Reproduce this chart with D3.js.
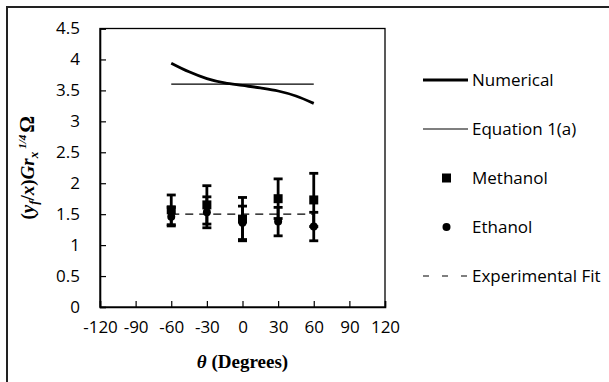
<!DOCTYPE html>
<html>
<head>
<meta charset="utf-8">
<script src="https://cdn.jsdelivr.net/npm/d3@7"></script>
<style>
  html, body { margin: 0; padding: 0; background: #fff; }
  svg { display: block; }
</style>
</head>
<body>
<div id="chart"></div>
<script>
'use strict';

// ─── Data ────────────────────────────────────────────────────────────────────
const xTicks = [-120, -90, -60, -30, 0, 30, 60, 90, 120];
const yTicks = [0, 0.5, 1, 1.5, 2, 2.5, 3, 3.5, 4, 4.5];

const numAngles = [-60, -45, -30, -15, 0, 15, 30, 45, 60];
const numerical = [3.94, 3.80, 3.69, 3.62, 3.58, 3.54, 3.49, 3.41, 3.29];

const lineAngles = [-60, 60];
const equation1a = [3.6, 3.6];
const expFit     = [1.5, 1.5];

const expAngles   = [-60, -30, 0, 30, 60];
const methanol    = [1.57, 1.65, 1.42, 1.75, 1.73];
const methanolErr = [0.24, 0.31, 0.35, 0.32, 0.43];
const ethanol     = [1.46, 1.53, 1.36, 1.38, 1.30];
const ethanolErr  = [0.15, 0.25, 0.27, 0.23, 0.23];

const legendItems = ['Numerical', 'Equation 1(a)', 'Methanol', 'Ethanol', 'Experimental Fit'];

// ─── Layout ──────────────────────────────────────────────────────────────────
const W = 609, H = 382;
const plot = { left: 100, top: 28.5, right: 385, bottom: 307 };
const SANS = '"Open Sans", sans-serif';
const SERIF = '"Liberation Serif", "Times New Roman", serif';

const svg = d3.select('#chart').append('svg').attr('width', W).attr('height', H);

// outer frame (only top and left visible)
svg.append('path')
  .attr('d', `M7,${H} V7 H${W}`)
  .attr('fill', 'none').attr('stroke', '#222').attr('stroke-width', 2);

const x = d3.scaleLinear().domain([-120, 120]).range([plot.left, plot.right]);
const y = d3.scaleLinear().domain([0, 4.5]).range([plot.bottom, plot.top]);

// plot area box
svg.append('rect')
  .attr('x', plot.left).attr('y', plot.top)
  .attr('width', plot.right - plot.left).attr('height', plot.bottom - plot.top)
  .attr('fill', 'none').attr('stroke', '#000').attr('stroke-width', 1.3);

// axes (inside ticks)
const xAxis = svg.append('g').attr('transform', `translate(0,${plot.bottom})`)
  .call(d3.axisBottom(x).tickValues(xTicks).tickSize(-6).tickPadding(14).tickFormat(d3.format('d')));
const yAxis = svg.append('g').attr('transform', `translate(${plot.left},0)`)
  .call(d3.axisLeft(y).tickValues(yTicks).tickSize(-6).tickPadding(20).tickFormat(d => String(d)));

[xAxis, yAxis].forEach(g => {
  g.select('.domain').attr('stroke-width', 1.6);
  g.selectAll('.tick line').attr('stroke-width', 1.2);
  g.selectAll('.tick text')
    .attr('font-family', SANS).attr('font-size', 17).attr('fill', '#000')
    .text(function() { return this.textContent.replace('−', '-'); });
});

// ─── Lines ───────────────────────────────────────────────────────────────────
const numLine = d3.line().x((d, i) => x(numAngles[i])).y(d => y(d)).curve(d3.curveMonotoneX);
svg.append('path').datum(numerical)
  .attr('d', numLine).attr('fill', 'none').attr('stroke', '#000').attr('stroke-width', 2.8);

const flatLine = d3.line().x((d, i) => x(lineAngles[i])).y(d => y(d));
svg.append('path').datum(equation1a)
  .attr('d', flatLine).attr('fill', 'none').attr('stroke', '#000').attr('stroke-width', 1.2);
svg.append('path').datum(expFit)
  .attr('d', flatLine).attr('fill', 'none').attr('stroke', '#000').attr('stroke-width', 1.2)
  .attr('stroke-dasharray', '8,6');

// ─── Error bars + markers ────────────────────────────────────────────────────
function errorBars(vals, errs) {
  const g = svg.append('g').attr('stroke', '#000').attr('stroke-width', 2.8);
  vals.forEach((v, i) => {
    const cx = x(expAngles[i]);
    const y0 = y(v - errs[i]), y1 = y(v + errs[i]);
    g.append('line').attr('x1', cx).attr('x2', cx).attr('y1', y0).attr('y2', y1);
    g.append('line').attr('x1', cx - 4.5).attr('x2', cx + 4.5).attr('y1', y0).attr('y2', y0);
    g.append('line').attr('x1', cx - 4.5).attr('x2', cx + 4.5).attr('y1', y1).attr('y2', y1);
  });
}
errorBars(methanol, methanolErr);
errorBars(ethanol, ethanolErr);

svg.append('g').selectAll('rect').data(methanol).join('rect')
  .attr('x', (d, i) => x(expAngles[i]) - 4.5).attr('y', d => y(d) - 4.5)
  .attr('width', 9).attr('height', 9).attr('fill', '#000');
svg.append('g').selectAll('circle').data(ethanol).join('circle')
  .attr('cx', (d, i) => x(expAngles[i])).attr('cy', d => y(d))
  .attr('r', 4).attr('fill', '#000');

// ─── Axis titles ─────────────────────────────────────────────────────────────
const xt = svg.append('text')
  .attr('x', (plot.left + plot.right) / 2).attr('y', 368)
  .attr('text-anchor', 'middle').attr('font-family', SERIF)
  .attr('font-size', 19).attr('font-weight', 'bold');
xt.append('tspan').attr('font-style', 'italic').text('θ');
xt.append('tspan').text(' (Degrees)');

const yt = svg.append('text')
  .attr('transform', `translate(34,${(plot.top + plot.bottom) / 2}) rotate(-90)`)
  .attr('text-anchor', 'middle').attr('font-family', SERIF)
  .attr('font-size', 19).attr('font-weight', 'bold');
yt.append('tspan').text('(');
yt.append('tspan').attr('font-style', 'italic').text('y');
yt.append('tspan').attr('font-style', 'italic').attr('font-size', 13).attr('dy', 4).text('f');
yt.append('tspan').attr('dy', -4).text('/');
yt.append('tspan').attr('font-style', 'italic').text('x');
yt.append('tspan').text(')');
yt.append('tspan').attr('font-style', 'italic').text('Gr');
yt.append('tspan').attr('font-style', 'italic').attr('font-size', 13).attr('dy', 4).text('x');
yt.append('tspan').attr('font-style', 'italic').attr('font-size', 11).attr('dy', -12).attr('dx', 3).text('1/4');
yt.append('tspan').attr('dy', 8).attr('dx', 2).attr('font-size', 21).text('Ω');

// ─── Legend ──────────────────────────────────────────────────────────────────
const legX0 = 423, legX1 = 468, legTextX = 472, legY0 = 80, legStep = 49;
const leg = svg.append('g');
legendItems.forEach((name, i) => {
  const cy = legY0 + i * legStep;
  if (i === 0 || i === 1 || i === 4) {
    leg.append('line').attr('x1', legX0).attr('x2', legX1).attr('y1', cy).attr('y2', cy)
      .attr('stroke', '#000')
      .attr('stroke-width', i === 0 ? 2.8 : 1.2)
      .attr('stroke-dasharray', i === 4 ? '6,13' : null);
  } else if (i === 2) {
    leg.append('rect').attr('x', 442).attr('y', cy - 4.5).attr('width', 9).attr('height', 9).attr('fill', '#000');
  } else {
    leg.append('circle').attr('cx', 446.5).attr('cy', cy).attr('r', 4).attr('fill', '#000');
  }
  leg.append('text').attr('x', legTextX).attr('y', cy + 6)
    .attr('font-family', SANS).attr('font-size', 17).attr('fill', '#000')
    .text(name);
});
</script>
</body>
</html>
